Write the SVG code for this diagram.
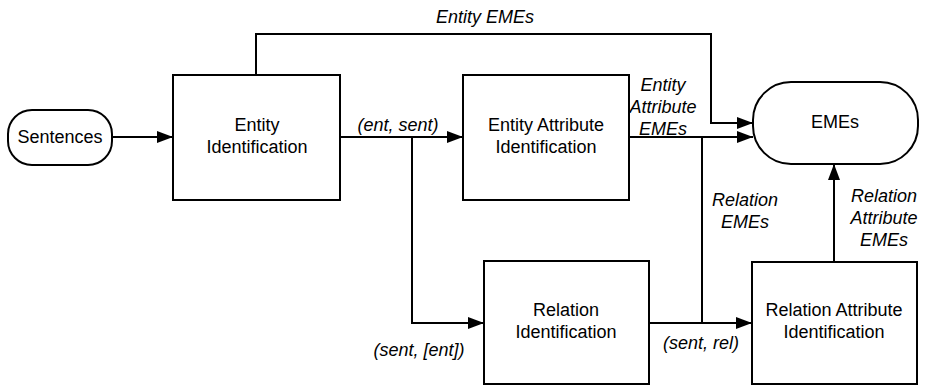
<svg xmlns="http://www.w3.org/2000/svg" width="926" height="385" viewBox="0 0 926 385">
<defs>
<marker id="ah" viewBox="0 0 16 12" refX="16" refY="6" markerWidth="16" markerHeight="12" markerUnits="userSpaceOnUse" orient="auto">
<path d="M0,0 L16,6 L0,12 Z" fill="#000"/>
</marker>
<style>
.box{fill:#fff;stroke:#000;stroke-width:2}
.t{font-family:"Liberation Sans",Arial,sans-serif;font-size:18px;text-anchor:middle;fill:#000}
.i{font-family:"Liberation Sans",Arial,sans-serif;font-size:18px;font-style:italic;text-anchor:middle;fill:#000}
.c{fill:none;stroke:#000;stroke-width:2}
</style>
</defs>
<rect width="926" height="385" fill="#fff"/>
<g id="connectors">
<path class="c" d="M112,137 H173" marker-end="url(#ah)"/>
<path class="c" d="M256,75 V34 H711 V123 H753" marker-end="url(#ah)"/>
<path class="c" d="M340,137 H463" marker-end="url(#ah)"/>
<path class="c" d="M412,137 V323 H484" marker-end="url(#ah)"/>
<path class="c" d="M629,137 H753" marker-end="url(#ah)"/>
<path class="c" d="M702,137 V323"/>
<path class="c" d="M649,323 H752" marker-end="url(#ah)"/>
<path class="c" d="M834,262 V164" marker-end="url(#ah)"/>
<text class="i" x="485" y="23">Entity EMEs</text>
<text class="i" x="398" y="131">(ent, sent)</text>
<text class="i" x="663" y="91">Entity</text>
<text class="i" x="663" y="113">Attribute</text>
<text class="i" x="663" y="135">EMEs</text>
<text class="i" x="745" y="206">Relation</text>
<text class="i" x="745" y="228">EMEs</text>
<text class="i" x="884" y="202">Relation</text>
<text class="i" x="884" y="224">Attribute</text>
<text class="i" x="884" y="246">EMEs</text>
<text class="i" x="419" y="356">(sent, [ent])</text>
<text class="i" x="701" y="349">(sent, rel)</text>
</g>
<g id="sentences">
<rect class="box" x="8" y="110" width="104" height="55" rx="24" ry="24"/>
<text class="t" x="60" y="143">Sentences</text>
</g>
<g id="entity-identification">
<rect class="box" x="173" y="75" width="167" height="125"/>
<text class="t" x="257" y="131">Entity</text>
<text class="t" x="257" y="153">Identification</text>
</g>
<g id="entity-attribute-identification">
<rect class="box" x="463" y="75" width="166" height="125"/>
<text class="t" x="546" y="131">Entity Attribute</text>
<text class="t" x="546" y="153">Identification</text>
</g>
<g id="emes">
<rect class="box" x="753" y="82" width="165" height="82" rx="38" ry="38"/>
<text class="t" x="835" y="128">EMEs</text>
</g>
<g id="relation-identification">
<rect class="box" x="484" y="261" width="165" height="123"/>
<text class="t" x="566" y="316">Relation</text>
<text class="t" x="566" y="338">Identification</text>
</g>
<g id="relation-attribute-identification">
<rect class="box" x="752" y="262" width="165" height="122"/>
<text class="t" x="834" y="316">Relation Attribute</text>
<text class="t" x="834" y="338">Identification</text>
</g>
</svg>
